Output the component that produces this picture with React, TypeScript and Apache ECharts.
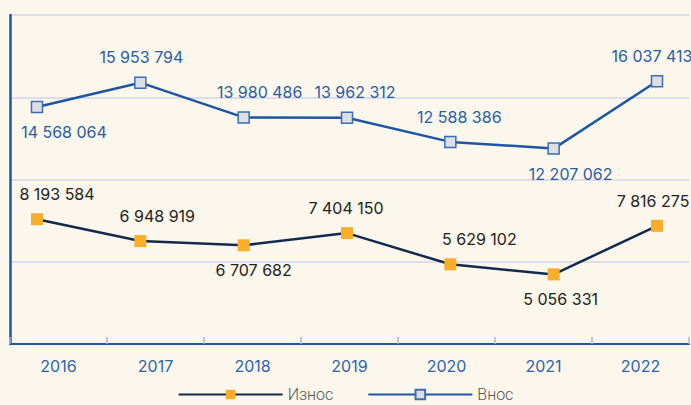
import React, { useEffect, useRef } from "react";
import * as echarts from "echarts";

const years = ["2016", "2017", "2018", "2019", "2020", "2021", "2022"];
const iznos = [8193584, 6948919, 6707682, 7404150, 5629102, 5056331, 7816275];
const vnos = [14568064, 15953794, 13980486, 13962312, 12588386, 12207062, 16037413];
const seriesNames = ["Износ", "Внос"];

// label placement (layout only): [position, x offset]
const iznosLabelLayout: [string, number][] = [
  ["top", 20], ["top", 17], ["bottom", 10], ["top", -1], ["top", 29], ["bottom", 7], ["top", -4],
];
const vnosLabelLayout: [string, number][] = [
  ["bottom", 27], ["top", 1], ["top", 16], ["top", 8], ["top", 9], ["bottom", 17], ["top", -5],
];

const BG = "#FBF7EC";
const BLUE = "#1E56A3";
const NAVY = "#13294D";
const ORANGE = "#F9AE2B";
const FONT = "Inter, 'Noto Sans', sans-serif";

const fmt = (v: number) => String(v).replace(/\B(?=(\d{3})+(?!\d))/g, " ");

export default function App() {
  const ref = useRef<HTMLDivElement>(null);
  useEffect(() => {
    if (!ref.current) return;
    const chart = echarts.init(ref.current, undefined, { renderer: "svg" });
    const mk = (vals: number[], layout: [string, number][], color: string) =>
      vals.map((v, i) => ({
        value: v,
        label: {
          show: true,
          position: layout[i][0],
          offset: [layout[i][1], 0],
          distance: 11,
          formatter: () => fmt(v),
          color,
          fontSize: 16,
          fontFamily: FONT,
        },
      }));
    chart.setOption({
      animation: false,
      backgroundColor: BG,
      grid: [
        { left: 10, right: 2, top: 15, bottom: 61 },
        { left: 37, right: 34, top: 15, bottom: 61 },
      ],
      xAxis: [
        {
          type: "category",
          gridIndex: 0,
          data: years,
          boundaryGap: true,
          axisLine: { show: true, lineStyle: { color: BLUE, width: 2 } },
          axisTick: { show: true, inside: true, length: 7, lineStyle: { color: "#AEB4DA", width: 1.5 } },
          axisLabel: { color: "#2F62AC", fontSize: 16, fontFamily: FONT, margin: 14 },
          splitLine: { show: false },
        },
        {
          type: "category",
          gridIndex: 1,
          data: years,
          boundaryGap: false,
          show: false,
        },
      ],
      yAxis: [
        {
          type: "value",
          gridIndex: 0,
          min: 0,
          max: 4,
          interval: 1,
          axisLine: { show: true, lineStyle: { color: BLUE, width: 2.5 } },
          axisTick: { show: false },
          axisLabel: { show: false },
          splitLine: { show: true, lineStyle: { color: "#D3D4E6", width: 1.5 } },
        },
        {
          type: "value",
          gridIndex: 1,
          min: 1100000,
          max: 19800000,
          show: false,
          splitLine: { show: false },
        },
      ],
      legend: {
        data: seriesNames,
        left: "center",
        top: 386,
        itemWidth: 104,
        itemHeight: 12,
        itemGap: 34,
        padding: 0,
        textStyle: {
          color: "#555",
          fontSize: 16,
          lineHeight: 17,
          fontFamily: "Roboto, sans-serif",
          fontWeight: 300,
        },
      },
      series: [
        {
          name: seriesNames[0],
          type: "line",
          xAxisIndex: 1,
          yAxisIndex: 1,
          clip: false,
          data: mk(iznos, iznosLabelLayout, "#222222"),
          symbol: "rect",
          symbolSize: 12,
          itemStyle: { color: ORANGE, borderWidth: 0 },
          lineStyle: { color: NAVY, width: 2.5 },
        },
        {
          name: seriesNames[1],
          type: "line",
          xAxisIndex: 1,
          yAxisIndex: 1,
          clip: false,
          data: mk(vnos, vnosLabelLayout, "#2A5CA5"),
          symbol: "rect",
          symbolSize: 11,
          itemStyle: { color: "#DCDFE5", borderColor: "#3D6DB4", borderWidth: 1.5 },
          lineStyle: { color: BLUE, width: 2.5 },
        },
      ],
    });
    return () => chart.dispose();
  }, []);
  return (
    <div
      ref={ref}
      style={{ position: "fixed", left: 0, top: 0, width: 691, height: 405, background: BG }}
    />
  );
}
